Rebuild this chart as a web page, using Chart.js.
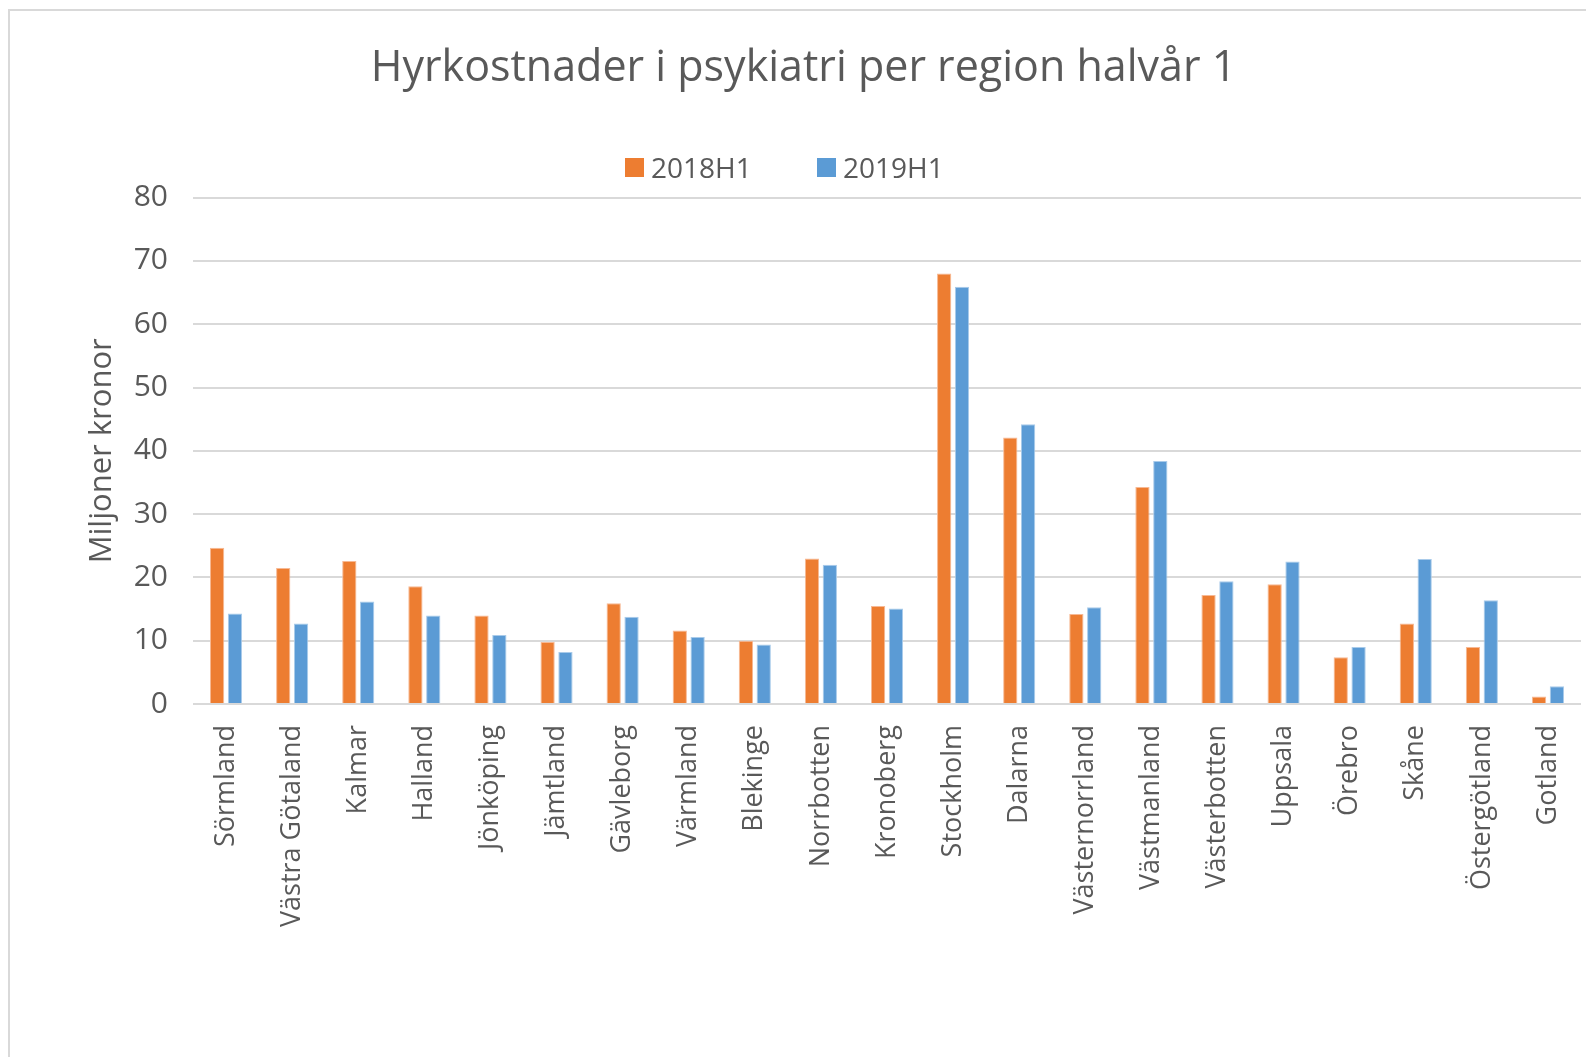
<!DOCTYPE html>
<html>
<head>
<meta charset="utf-8">
<script src="https://cdn.jsdelivr.net/npm/chart.js@4"></script>
<style>
  html, body { margin: 0; padding: 0; background: #fff; overflow: hidden; }
  body { width: 1586px; height: 1057px; position: relative; font-family: 'Open Sans', sans-serif; }
  .frame { position: absolute; left: 8px; top: 9px; width: 1640px; height: 1100px; border: 2px solid #d9d9d9; box-sizing: border-box; }
  #wrap { position: absolute; left: 0; top: 0; width: 1586px; height: 1057px; }
  .legend { position: absolute; top: 150px; left: 0; height: 34px; display: flex; align-items: center; font-size: 28px; color: #595959; }
  .legend span.item { position: absolute; display: flex; align-items: center; white-space: nowrap; }
  .legend i { display: inline-block; width: 19px; height: 19px; margin-right: 7px; }
</style>
</head>
<body>
<div class="frame"></div>
<div id="wrap"><canvas id="chart" width="1586" height="1057"></canvas></div>
<div class="legend" id="legend"></div>
<script>
// ---- Data ----
const regions = ['Sörmland','Västra Götaland','Kalmar','Halland','Jönköping','Jämtland','Gävleborg','Värmland','Blekinge','Norrbotten','Kronoberg','Stockholm','Dalarna','Västernorrland','Västmanland','Västerbotten','Uppsala','Örebro','Skåne','Östergötland','Gotland'];
const h1_2018 = [24.7, 21.5, 22.6, 18.6, 14.0, 9.8, 15.9, 11.6, 10.0, 23.0, 15.5, 68.0, 42.1, 14.2, 34.3, 17.2, 18.9, 7.4, 12.7, 9.0, 1.2];
const h1_2019 = [14.3, 12.7, 16.2, 14.0, 10.9, 8.2, 13.8, 10.6, 9.4, 22.0, 15.1, 65.9, 44.2, 15.3, 38.4, 19.4, 22.5, 9.0, 22.9, 16.4, 2.8];
const seriesNames = ['2018H1', '2019H1'];
const yTicks = [0, 10, 20, 30, 40, 50, 60, 70, 80];

const ORANGE = '#ED7D31';
const BLUE   = '#5B9BD5';
const TEXT   = '#595959';
const GRID   = '#d9d9d9';
const FONT   = "'Open Sans', sans-serif";

// ---- HTML legend ----
const legendPos = [625, 817];
const legendEl = document.getElementById('legend');
[ORANGE, BLUE].forEach((c, i) => {
  const s = document.createElement('span');
  s.className = 'item';
  s.style.left = legendPos[i] + 'px';
  s.innerHTML = '<i style="background:' + c + '"></i>' + seriesNames[i];
  legendEl.appendChild(s);
});

// ---- Chart ----
new Chart(document.getElementById('chart'), {
  type: 'bar',
  data: {
    labels: regions,
    datasets: [
      { label: seriesNames[0], data: h1_2018, backgroundColor: ORANGE, borderColor: '#F7B994', borderWidth: 1, borderSkipped: 'bottom' },
      { label: seriesNames[1], data: h1_2019, backgroundColor: BLUE,   borderColor: '#A9CBEA', borderWidth: 1, borderSkipped: 'bottom' }
    ]
  },
  options: {
    responsive: false,
    animation: false,
    categoryPercentage: 0.54,
    barPercentage: 0.8,
    layout: { padding: { left: 26, right: 5, top: 0, bottom: 0 } },
    plugins: {
      legend: { display: false },
      tooltip: { enabled: false },
      title: {
        display: true,
        text: 'Hyrkostnader i psykiatri per region halvår 1',
        color: TEXT,
        font: { family: FONT, size: 43, weight: 'normal', lineHeight: 1.2 },
        padding: { top: 43, bottom: 103 }
      }
    },
    scales: {
      x: {
        grid: { display: false },
        border: { display: false },
        // keep the plot running to the right edge, as in the original
        afterFit: s => { s.height = 1057 - 704; s.paddingLeft = 0; s.paddingRight = 0; },
        ticks: {
          autoSkip: false, minRotation: 90, maxRotation: 90, padding: 13,
          color: TEXT, font: { family: FONT, size: 27 }
        }
      },
      y: {
        min: 0, max: 80,
        afterFit: s => { s.width = 193 - 26; },
        afterBuildTicks: s => { s.ticks = yTicks.map(v => ({ value: v })); },
        border: { display: false },
        grid: { color: GRID, lineWidth: 2, drawTicks: false },
        ticks: { padding: 25, color: TEXT, font: { family: FONT, size: 30 } },
        title: {
          display: true, text: 'Miljoner kronor', color: TEXT,
          font: { family: FONT, size: 31, lineHeight: 1.2 },
          padding: { top: 58, bottom: 0 }
        }
      }
    }
  }
});
</script>
</body>
</html>
